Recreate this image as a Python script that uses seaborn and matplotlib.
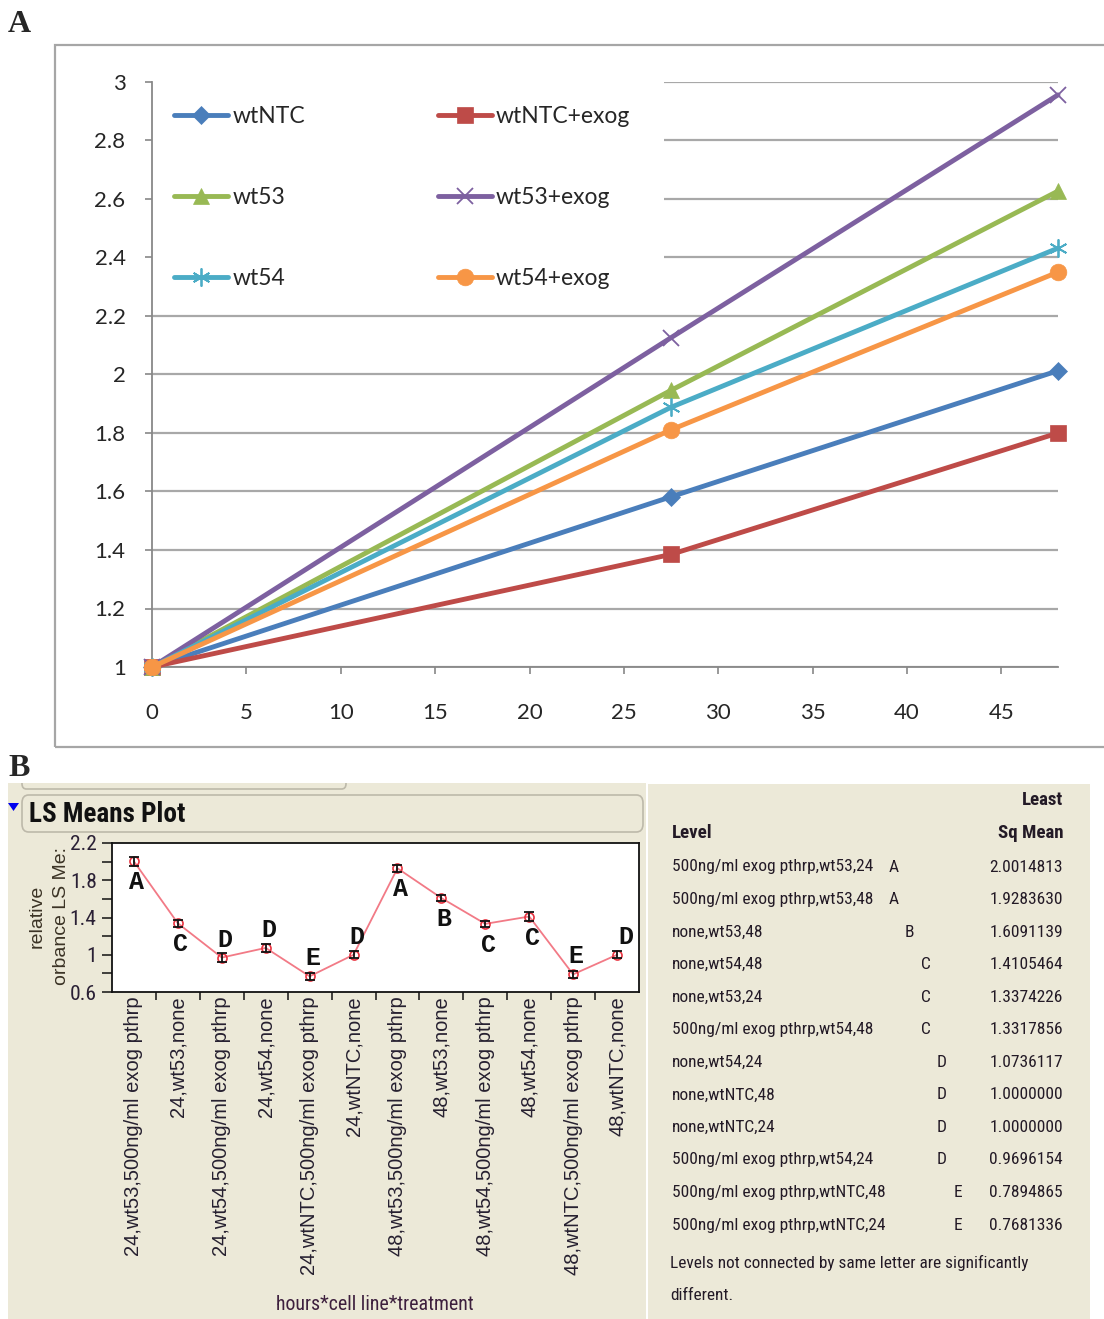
import numpy as np
import pandas as pd
import matplotlib
matplotlib.use("Agg")
import matplotlib.pyplot as plt
import seaborn as sns
from matplotlib.patches import Rectangle, FancyBboxPatch, Polygon
from matplotlib import font_manager as fm
from matplotlib.font_manager import FontProperties
from matplotlib.textpath import TextPath
from matplotlib.ticker import FuncFormatter

# ---------------- data: panel A ----------------
hours = [0, 27.5, 48]
wtNTC = [1.0, 1.582, 2.013]
wtNTC_exog = [1.0, 1.385, 1.800]
wt53 = [1.0, 1.946, 2.627]
wt53_exog = [1.0, 2.126, 2.956]
wt54 = [1.0, 1.888, 2.432]
wt54_exog = [1.0, 1.811, 2.350]
series_labels = ["wtNTC", "wtNTC+exog", "wt53", "wt53+exog", "wt54", "wt54+exog"]
yticks_A = [1, 1.2, 1.4, 1.6, 1.8, 2, 2.2, 2.4, 2.6, 2.8, 3]
xticks_A = [0, 5, 10, 15, 20, 25, 30, 35, 40, 45]

# ---------------- data: panel B ----------------
b_hours = ["24"] * 6 + ["48"] * 6
b_cells = ["wt53", "wt53", "wt54", "wt54", "wtNTC", "wtNTC"] * 2
b_treat = ["500ng/ml exog pthrp", "none"] * 6
ls_means = [2.0014813, 1.3374226, 0.9696154, 1.0736117, 0.7681336, 1.0000000,
            1.9283630, 1.6091139, 1.3317856, 1.4105464, 0.7894865, 1.0000000]
ls_err = [0.045, 0.040, 0.045, 0.040, 0.040, 0.040,
          0.040, 0.035, 0.035, 0.045, 0.040, 0.035]
ls_letters = ["A", "C", "D", "D", "E", "D", "A", "B", "C", "C", "E", "D"]
letter_side = ["below", "below", "above", "above", "above", "above",
               "below", "below", "below", "below", "above", "above"]
yticks_B = [0.6, 1.0, 1.4, 1.8, 2.2]
yticks_B_minor = [0.8, 1.2, 1.6, 2.0]

# ---------------- fonts ----------------
W, H = 1104, 1319
sns.set_theme(style="white")
plt.rcParams["font.family"] = ["Lato", "DejaVu Sans"]


def find_narrow(bold):
    best, best_rank = None, 99
    prefs = ["Liberation Sans Narrow", "Roboto Condensed", "Open Sans Condensed",
             "Noto Sans", "Open Sans", "Roboto", "DejaVu Sans", "Liberation Sans"]
    for f in fm.fontManager.ttflist:
        narrow = ("Narrow" in f.name or "Condensed" in f.name or
                  f.stretch in ("condensed", "semi-condensed", "extra-condensed")
                  or "Condensed" in f.fname or "Narrow" in f.fname)
        if not narrow or f.style != "normal":
            continue
        fw = f.weight if isinstance(f.weight, int) else 400
        if bold != (fw >= 600):
            continue
        if bold and fw > 750:
            continue
        if not bold and fw < 350:
            continue
        rank_pen = 5 if ("Extra" in f.fname or "Semi" in f.fname or "Ultra" in f.fname) else 0
        rank = 50
        for i, p in enumerate(prefs):
            if f.name.startswith(p):
                rank = i
                break
        rank += rank_pen
        if rank < best_rank:
            best, best_rank = f.fname, rank
    return best


_nr = find_narrow(False)
_nb = find_narrow(True)
BASE_R = FontProperties(fname=_nr) if _nr else FontProperties(family="Liberation Sans")
BASE_B = (FontProperties(fname=_nb) if _nb else
          FontProperties(family="Liberation Sans", weight="bold"))


def fitted(base, text, target_px):
    w = TextPath((0, 0), text, size=100, prop=base).get_extents().width
    size = 100 * (target_px * 72 / 100) / w
    p = base.copy()
    p.set_size(size)
    return p


fig = plt.figure(figsize=(W / 100, H / 100), dpi=100)
fig.patch.set_facecolor("white")


def frect(l, t, r, b):
    return [l / W, 1 - b / H, (r - l) / W, (b - t) / H]


def fx(x):
    return x / W


def fy(y):
    return 1 - y / H


# ================= Panel A =================
fig.add_artist(Rectangle((fx(55), fy(747)), (1110 - 55) / W, (747 - 45) / H,
                         transform=fig.transFigure, fill=False,
                         edgecolor="#A6A6A6", lw=1.6))
fig.text(fx(8), fy(25), "A", fontsize=23, fontweight="bold",
         family=["Liberation Serif"], ha="left", va="center")

axA = fig.add_axes(frect(152, 82, 1058, 667))
axA.set_facecolor("white")
styles = [
    (wtNTC, "#4A7EBB", "D", 9, 0),
    (wtNTC_exog, "#BE4B48", "s", 12, 0),
    (wt53, "#98B954", "^", 12, 0),
    (wt53_exog, "#7D60A0", "x", 11, 1.3),
    (wt54, "#4BACC6", (6, 2, 0), 13, 1.3),
    (wt54_exog, "#F79646", "o", 12, 0),
]
for (vals, col, mk, ms, mew), lab in zip(styles, series_labels):
    sns.lineplot(x=hours, y=vals, ax=axA, color=col, lw=3.5, marker=mk,
                 markersize=ms, markerfacecolor=col, markeredgecolor=col,
                 markeredgewidth=mew if mew else 0.5, label=lab,
                 clip_on=False, zorder=3)

axA.set_xlim(0, 48)
axA.set_ylim(1, 3)
axA.set_yticks(yticks_A)
axA.set_xticks(xticks_A)
axA.yaxis.set_major_formatter(FuncFormatter(lambda v, p: f"{v:g}"))
axA.yaxis.grid(True, color="#A8A8A8", lw=1.6, zorder=0.5)
axA.xaxis.grid(False)
axA.set_axisbelow(True)
for s in ["top", "right"]:
    axA.spines[s].set_visible(False)
for s in ["left", "bottom"]:
    axA.spines[s].set_color("#888888")
    axA.spines[s].set_linewidth(1.3)
axA.tick_params(axis="y", direction="out", length=5, width=1.2, color="#888888",
                labelsize=16, pad=14, left=True)
axA.tick_params(axis="x", direction="out", length=5, width=1.2, color="#888888",
                labelsize=16, pad=21, bottom=True)
axA.set_xlabel("")
axA.set_ylabel("")
axA.add_patch(Rectangle((0, 2.25), (663 - 152) / 905 * 48, 0.8, facecolor="white",
                        edgecolor="none", zorder=1, clip_on=True))
h, l = axA.get_legend_handles_labels()
order = [0, 2, 4, 1, 3, 5]
leg = axA.legend([h[i] for i in order], [l[i] for i in order], ncol=2,
                 loc="upper left", bbox_to_anchor=(fx(174), fy(106)),
                 bbox_transform=fig.transFigure, frameon=False, fontsize=16.5,
                 handlelength=2.36, handletextpad=0.18, labelspacing=2.62,
                 columnspacing=5.8, borderpad=0, borderaxespad=0)

# ================= Panel B =================
fig.add_artist(Rectangle((fx(8), fy(1319)), (646 - 8) / W, (1319 - 783) / H,
                         transform=fig.transFigure, facecolor="#ECE9D8",
                         edgecolor="none", zorder=0))
fig.add_artist(Rectangle((fx(648), fy(1319)), (1090 - 648) / W, (1319 - 784) / H,
                         transform=fig.transFigure, facecolor="#ECE9D8",
                         edgecolor="none", zorder=0))
fig.add_artist(FancyBboxPatch((fx(22), fy(789)), (346 - 22) / W, (789 - 770) / H,
                              boxstyle="round,pad=0,rounding_size=0.004",
                              transform=fig.transFigure, facecolor="#ECE9D8",
                              edgecolor="#BDB9AA", lw=1.2, zorder=0.5))
fig.add_artist(Rectangle((0, fy(783)), 0.62, (783 - 752) / H,
                         transform=fig.transFigure, facecolor="white",
                         edgecolor="none", zorder=0.6))
fig.add_artist(FancyBboxPatch((fx(22), fy(832)), (643 - 22) / W, (832 - 795) / H,
                              boxstyle="round,pad=0,rounding_size=0.006",
                              transform=fig.transFigure, facecolor="#ECE9D8",
                              edgecolor="#BDB9AA", lw=1.2, zorder=0.5))
fig.add_artist(Polygon([(fx(8), fy(803)), (fx(19), fy(803)), (fx(13.5), fy(811))],
                       closed=True, transform=fig.transFigure,
                       facecolor="#0000EE", edgecolor="none", zorder=1))
fig.text(fx(29), fy(814), "LS Means Plot",
         fontproperties=fitted(BASE_B, "LS Means Plot", 154),
         ha="left", va="center", color="#111111")
fig.text(fx(8), fy(768), "B", fontsize=23, fontweight="bold",
         family=["Liberation Serif"], ha="left", va="center")

axB = fig.add_axes(frect(112, 843, 639, 992))
axB.set_facecolor("white")
idx = np.arange(len(ls_means))
sns.lineplot(x=idx, y=ls_means, ax=axB, color="#F27A86", lw=1.3, marker="o",
             markersize=6.5, markerfacecolor="none", markeredgecolor="#E8323F",
             markeredgewidth=1.2, zorder=3)
axB.errorbar(idx, ls_means, yerr=ls_err, fmt="none", ecolor="#111111",
             elinewidth=1.3, capsize=3.5, capthick=1.3, zorder=4)
for i, (v, let, side) in enumerate(zip(ls_means, ls_letters, letter_side)):
    dy = -21 if side == "below" else 18
    dx = 9 if i == len(ls_means) - 1 else 3
    axB.annotate(let, (i, v), xytext=(dx, dy), textcoords="offset pixels",
                 ha="center", va="center", fontsize=18, fontweight="bold",
                 family=["Liberation Mono"], color="#111111")
axB.set_xlim(-0.5, len(ls_means) - 0.5)
axB.set_ylim(0.6, 2.2)
axB.set_yticks(yticks_B)
axB.set_yticks(yticks_B_minor, minor=True)
axB.yaxis.set_major_formatter(FuncFormatter(lambda v, p: f"{v:g}"))
xlabels = [f"{hh},{cc},{tt}" for hh, cc, tt in zip(b_hours, b_cells, b_treat)]
axB.set_xticks(idx)
axB.set_xticklabels(xlabels, rotation=90, ha="center", va="top",
                    fontsize=14.5, family=["Liberation Sans"], color="#262030")
axB.set_xticks(np.arange(0.5, len(ls_means) - 0.5, 1.0), minor=True)
ytick_prop = fitted(BASE_R, "2.2", 25)
for lab in axB.get_yticklabels():
    lab.set_fontproperties(ytick_prop)
axB.tick_params(axis="x", which="major", length=0, pad=3)
axB.tick_params(axis="x", which="minor", direction="out", length=6, width=1.1,
                color="#111111", bottom=True)
axB.tick_params(axis="y", which="both", direction="out", length=7, width=1.1,
                color="#111111", left=True, pad=4, labelcolor="#2a2035")
for s in axB.spines.values():
    s.set_color("#111111")
    s.set_linewidth(1.3)
axB.grid(False)
fig.text(fx(37), fy(916), "relative", rotation=90, fontsize=14,
         family=["Liberation Sans"], ha="center", va="center", color="#3b3325")
fig.text(fx(62), fy(916), "orbance LS Me:", rotation=90, fontsize=14,
         family=["Liberation Sans"], ha="center", va="center", color="#3b3325")
fig.text(fx(375), fy(1304), "hours*cell line*treatment",
         fontproperties=fitted(BASE_R, "hours*cell line*treatment", 196),
         ha="center", va="center", color="#3d1f3d")

# ---------------- table ----------------
tab = pd.DataFrame({"hours": b_hours, "cell": b_cells, "treat": b_treat,
                    "mean": ls_means, "letter": ls_letters})
tab["h_num"] = tab["hours"].astype(int)
tab = tab.sort_values(["mean", "h_num"], ascending=[False, False]).reset_index(drop=True)
letter_x = {"A": 894, "B": 909, "C": 926, "D": 942, "E": 958}
tprop = fitted(BASE_R, "500ng/ml exog pthrp,wt53,24", 199)
bprop = fitted(BASE_B, "Sq Mean", 64)
tcol = "#231a26"
fig.text(fx(1063), fy(800), "Least", fontproperties=bprop,
         ha="right", va="center", color=tcol)
fig.text(fx(1063), fy(833), "Sq Mean", fontproperties=bprop,
         ha="right", va="center", color=tcol)
fig.text(fx(672), fy(833), "Level", fontproperties=bprop,
         ha="left", va="center", color=tcol)
for i, row in tab.iterrows():
    y = 867 + i * 32.55
    fig.text(fx(672), fy(y), f"{row['treat']},{row['cell']},{row['hours']}",
             fontproperties=tprop, ha="left", va="center", color=tcol)
    fig.text(fx(letter_x[row["letter"]]), fy(y), row["letter"],
             fontproperties=tprop, ha="center", va="center", color=tcol)
    fig.text(fx(1063), fy(y), f"{row['mean']:.7f}",
             fontproperties=tprop, ha="right", va="center", color=tcol)
fprop = fitted(BASE_R, "Levels not connected by same letter are significantly", 357)
fig.text(fx(670), fy(1263), "Levels not connected by same letter are significantly",
         fontproperties=fprop, ha="left", va="center", color=tcol)
fig.text(fx(670), fy(1295), "different.", fontproperties=fprop,
         ha="left", va="center", color=tcol)

fig.savefig("out.png", dpi=100)
